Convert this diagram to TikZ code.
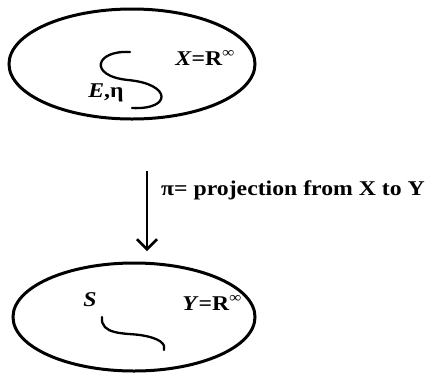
\documentclass[tikz,border=0pt]{standalone}
\usepackage{fontspec}
\setmainfont{Liberation Serif}
\newfontfamily\widefont[FakeStretch=1.13]{Liberation Serif}
\usetikzlibrary{shapes.geometric,arrows.meta}
\begin{document}
\begin{tikzpicture}[x=1pt,y=-1pt,
  space/.style={draw,ellipse,line width=3pt,inner sep=0pt},
  lbl/.style={inner sep=0pt,font=\widefont\fontsize{21}{24}\selectfont\bfseries},
  curve/.style={line width=2.3pt,line cap=round}]
\useasboundingbox (0,0) rectangle (429,373);
\node[space,minimum width=246pt,minimum height=110pt] (X) at (132,64) {};
\node[space,minimum width=242pt,minimum height=108pt] (Y) at (134,317) {};
\node[lbl] (xl) at (205,58) {\textit{X}=R\textsuperscript{∞}};
\node[lbl] (yl) at (212,303) {\textit{Y}=R\textsuperscript{∞}};
\node[lbl] (el) at (106,93) {\textit{E},η};
\node[lbl] (sl) at (90,300) {\textit{S}};
\draw[curve] (130,52) .. controls (95,50) and (88,76) .. (128,80)
  .. controls (172,84) and (172,110) .. (132,108);
\draw[curve] (102,317) .. controls (100,335) and (125,333) .. (140,335)
  .. controls (160,338) and (166,344) .. (164,350);
\coordinate (a1) at (147,171);
\coordinate (a2) at (147,251);
\draw[line width=2.5pt,-{Straight Barb[length=10pt,width=20pt]}] (a1) -- (a2);
\node[lbl,anchor=west] (pl) at (161,190) {π= projection from X to Y};
\end{tikzpicture}
\end{document}
